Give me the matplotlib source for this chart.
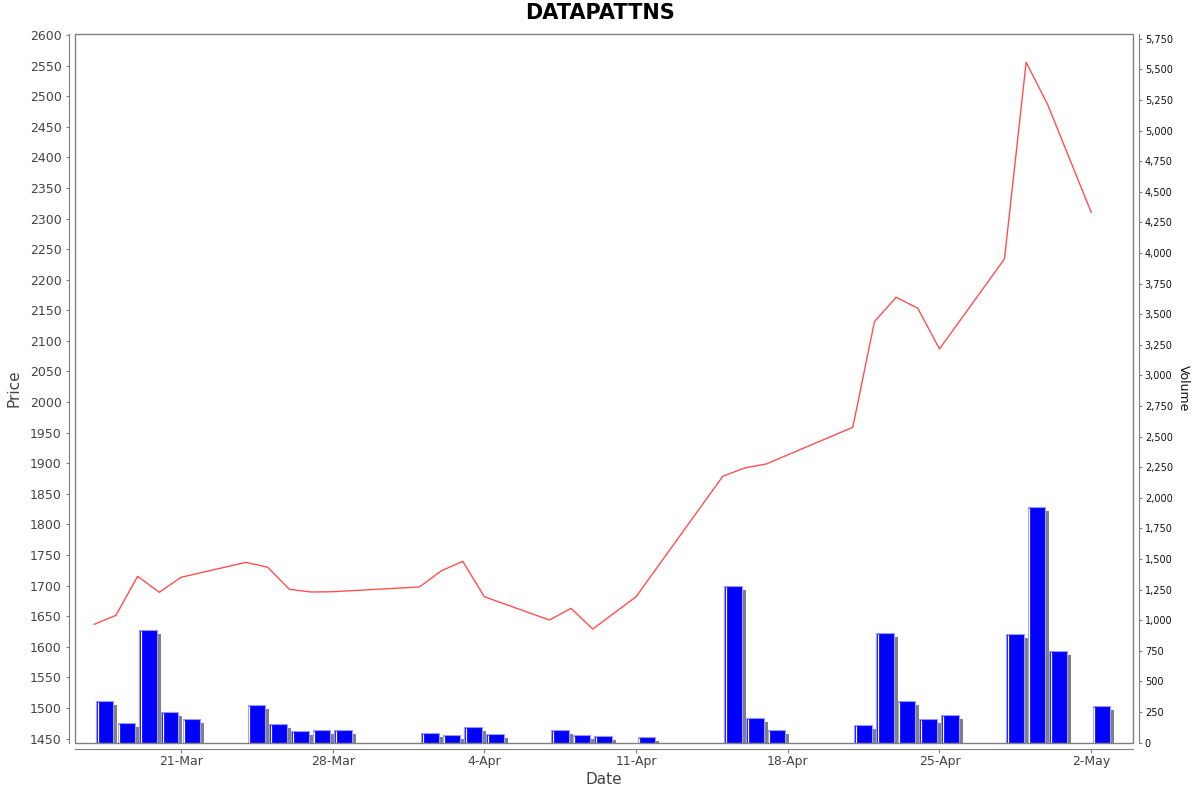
import numpy as np
import pandas as pd
import matplotlib
matplotlib.use("Agg")
import matplotlib.pyplot as plt
import matplotlib.dates as mdates
from matplotlib.ticker import MultipleLocator, FuncFormatter
from matplotlib.transforms import offset_copy
from matplotlib.patches import Rectangle

title = "DATAPATTNS"
dates = ["2025-03-17", "2025-03-18", "2025-03-19", "2025-03-20", "2025-03-21",
         "2025-03-24", "2025-03-25", "2025-03-26", "2025-03-27", "2025-03-28",
         "2025-04-01", "2025-04-02", "2025-04-03", "2025-04-04",
         "2025-04-07", "2025-04-08", "2025-04-09", "2025-04-11",
         "2025-04-15", "2025-04-16", "2025-04-17",
         "2025-04-21", "2025-04-22", "2025-04-23", "2025-04-24", "2025-04-25",
         "2025-04-28", "2025-04-29", "2025-04-30", "2025-05-02"]
price = [1636.7, 1651.4, 1715.2, 1689.0, 1713.5,
         1738.0, 1730.0, 1694.0, 1689.5, 1690.0,
         1697.7, 1723.8, 1739.7, 1681.8,
         1643.7, 1662.8, 1629.0, 1681.8,
         1878.6, 1892.2, 1898.7,
         1958.7, 2131.4, 2171.3, 2153.3, 2086.8,
         2233.9, 2555.5, 2485.6, 2310.2]
volume = [341, 161, 923, 253, 191,
          306, 155, 96, 101, 104,
          79, 63, 126, 71,
          104, 65, 52, 44,
          1280, 204, 101,
          142, 896, 341, 194, 226,
          886, 1926, 749, 300]

x = mdates.date2num(pd.to_datetime(dates).to_pydatetime())
price = np.array(price)
volume = np.array(volume)

fig = plt.figure(figsize=(12, 7.92), dpi=100)
L, R, T, B = 75, 1133, 34, 743.3
ax = fig.add_axes([L / 1200, 1 - B / 792, (R - L) / 1200, (B - T) / 792])
ax2 = ax.twinx()

gray = "#808080"
txt = "#444444"

# volume bars (right axis)
bar_w = 0.81
bar_x = x + 0.48
shadow_tr = offset_copy(ax2.transData, fig=fig, x=4, y=-4, units="dots")
ax2.bar(bar_x, volume, width=bar_w, color="#808080", transform=shadow_tr,
        zorder=1, linewidth=0)
ax2.bar(bar_x, volume, width=bar_w, color="#0000ff", edgecolor="#9a9aff",
        linewidth=0.8, zorder=2)
hl_tr = offset_copy(ax2.transData, fig=fig, x=1.6, y=0, units="dots")
ax2.vlines(bar_x - bar_w / 2, 0, volume - 8, colors="white", linewidth=0.9,
           transform=hl_tr, zorder=3)

# price line (left axis)
ax.plot(x, price, color="#ff5050", linewidth=1.0, zorder=5)
ax.set_zorder(ax2.get_zorder() + 1)
ax.patch.set_visible(False)

xmin = mdates.date2num(pd.Timestamp("2025-03-16")) + 0.11
xmax = mdates.date2num(pd.Timestamp("2025-05-03")) + 0.93
ax.set_xlim(xmin, xmax)
ax.set_ylim(1442.2, 2601.6)
ax2.set_ylim(-5, 5790)

ax.yaxis.set_major_locator(MultipleLocator(50))
ax2.yaxis.set_major_locator(MultipleLocator(250))
ax2.yaxis.set_major_formatter(FuncFormatter(lambda v, p: f"{int(v):,}"))
ax.xaxis.set_major_locator(mdates.WeekdayLocator(byweekday=mdates.FR))
ax.xaxis.set_major_formatter(FuncFormatter(
    lambda v, p: f"{mdates.num2date(v).day}-{mdates.num2date(v).strftime('%b')}"))

for a in (ax, ax2):
    for s in a.spines.values():
        s.set_visible(False)

# plot border
ax.add_patch(Rectangle((0, 0), 1, 1, transform=ax.transAxes, fill=False,
                       edgecolor=gray, linewidth=1.0, zorder=10, clip_on=False))

ax.spines["left"].set_visible(True)
ax.spines["left"].set_position(("outward", 4))
ax.spines["left"].set_color(gray)
ax.spines["bottom"].set_visible(True)
ax.spines["bottom"].set_position(("outward", 4))
ax.spines["bottom"].set_color(gray)
ax2.spines["right"].set_visible(True)
ax2.spines["right"].set_position(("outward", 4))
ax2.spines["right"].set_color(gray)

ax.tick_params(axis="y", direction="out", length=2.5, width=0.8, color=gray,
               labelsize=9, labelcolor=txt, pad=3)
ax.tick_params(axis="x", direction="out", length=3, width=0.8, color=gray,
               labelsize=9, labelcolor=txt, pad=1.5)
ax2.tick_params(axis="y", direction="out", length=2, width=0.8, color=gray,
                labelsize=7, labelcolor="#111111", pad=2.5)

ax.set_ylabel("Price", fontsize=11, color=txt, labelpad=6)
ax.set_xlabel("Date", fontsize=11, color=txt, labelpad=3)
ax2.set_ylabel("Volume", fontsize=9, color="#111111", rotation=270, labelpad=12)

fig.text(0.5, 1 - 13 / 792, title, ha="center", va="center", fontsize=15,
         fontweight="bold", color="black")

fig.savefig("out.png", dpi=100)
